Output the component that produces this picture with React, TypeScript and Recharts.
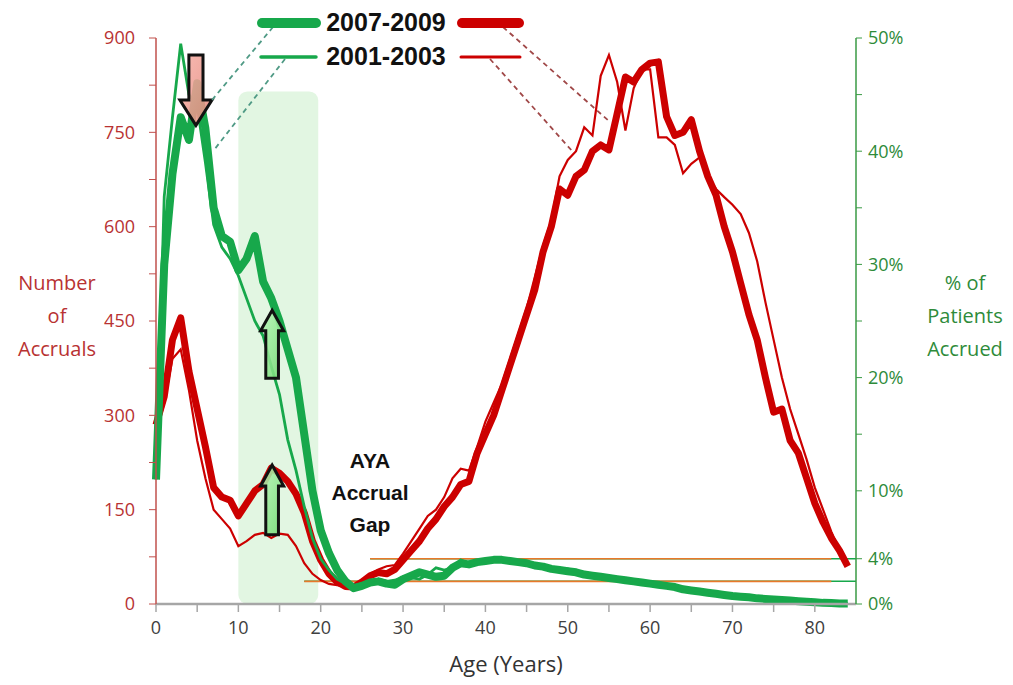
import { LineChart, Line, XAxis, YAxis, ReferenceArea, ReferenceLine } from "recharts";

// ages in years
const ages = [
  0, 1, 2, 3, 4, 5, 6, 7, 8, 9, 10, 11, 12, 13, 14, 15, 16, 17, 18, 19, 20,
  21, 22, 23, 24, 25, 26, 27, 28, 29, 30, 31, 32, 33, 34, 35, 36, 37, 38, 39, 40,
  41, 42, 43, 44, 45, 46, 47, 48, 49, 50, 51, 52, 53, 54, 55, 56, 57, 58, 59, 60,
  61, 62, 63, 64, 65, 66, 67, 68, 69, 70, 71, 72, 73, 74, 75, 76, 77, 78, 79, 80,
  81, 82, 83, 84,
];

// number of accruals (left axis)
const accruals0709 = [
  285, 330, 420, 455, 370, 310, 250, 185, 170, 165, 140, 160, 180, 190, 216, 208, 195, 175, 145, 100, 70,
  48, 35, 28, 27, 35, 45, 50, 48, 55, 70, 85, 100, 120, 135, 155, 170, 190, 195, 240, 270,
  300, 340, 380, 420, 460, 500, 560, 600, 660, 650, 680, 690, 720, 730, 722, 780, 838, 830, 850, 860,
  862, 775, 745, 750, 770, 720, 680, 650, 600, 560, 510, 460, 420, 360, 305, 310, 260, 240, 200, 160,
  130, 105, 85, 60,
];
const accruals0103 = [
  270, 320, 390, 405, 340, 260, 200, 150, 135, 120, 92, 100, 110, 113, 105, 112, 110, 92, 65, 48, 38,
  32, 30, 28, 27, 35, 48, 55, 60, 62, 80, 100, 120, 140, 150, 170, 200, 215, 212, 250, 290,
  320, 350, 390, 430, 470, 520, 570, 610, 680, 706, 720, 758, 745, 840, 873, 830, 753, 820, 850, 850,
  742, 742, 730, 685, 700, 710, 680, 660, 647, 635, 620, 590, 545, 480, 420, 360, 310, 270, 230, 185,
  150, 115, 85, 65,
];

// % of patients accrued (right axis)
const pct0709 = [
  11, 30, 38, 43, 41, 46, 42, 35, 32.5, 32, 29.5, 30.5, 32.5, 28.5, 27, 25, 22.5, 20, 15, 10, 6.5,
  4.5, 3, 2, 1.4, 1.6, 1.9, 2.0, 1.8, 1.7, 2.2, 2.5, 2.8, 2.6, 2.4, 2.5, 3.2, 3.6, 3.5, 3.7, 3.8,
  3.9, 3.9, 3.8, 3.7, 3.6, 3.4, 3.3, 3.1, 3.0, 2.9, 2.8, 2.6, 2.5, 2.4, 2.3, 2.2, 2.1, 2.0, 1.9, 1.8,
  1.7, 1.6, 1.5, 1.3, 1.2, 1.1, 1.0, 0.9, 0.8, 0.7, 0.65, 0.6, 0.5, 0.45, 0.4, 0.35, 0.3, 0.25, 0.2, 0.15,
  0.1, 0.08, 0.05, 0.05,
];
const pct0103 = [
  11, 36, 43, 49.5, 45, 44, 39, 33.5, 31.5, 30.5, 29, 27, 25, 23.7, 21, 18.5, 14.5, 11.8, 8.6, 5.8, 4,
  3, 2.2, 1.8, 1.6, 1.8, 2.0, 2.2, 2.0, 2.1, 2.4, 2.3, 2.2, 2.6, 3.2, 3.0, 3.2, 3.9, 3.6, 3.7, 3.8,
  4.0, 3.8, 3.7, 3.7, 3.6, 3.5, 3.3, 3.2, 3.1, 3.1, 2.9, 2.8, 2.6, 2.5, 2.4, 2.3, 2.2, 2.1, 2.0, 1.9,
  1.8, 1.7, 1.55, 1.45, 1.3, 1.2, 1.1, 1.0, 0.9, 0.8, 0.7, 0.65, 0.55, 0.5, 0.45, 0.4, 0.35, 0.3, 0.25, 0.2,
  0.15, 0.1, 0.08, 0.05,
];

const xTicks = [0, 5, 10, 15, 20, 25, 30, 35, 40, 45, 50, 55, 60, 65, 70, 75, 80];
const leftTicks = [0, 75, 150, 225, 300, 375, 450, 525, 600, 675, 750, 825, 900];
const rightTicks = [0, 2, 4, 10, 15, 20, 25, 30, 35, 40, 45, 50];
const rightLabels = [0, 2, 4, 10, 20, 30, 40, 50];

const data = ages.map((age, i) => ({
  age,
  red07: accruals0709[i],
  red01: accruals0103[i],
  green07: pct0709[i],
  green01: pct0103[i],
}));

const RED = "#cc0000";
const GREEN = "#17a84b";
const FONT = "'Open Sans', sans-serif";

// plot geometry (matches margins / axis widths below)
const W = 1013, H = 685;
const PL = 156, PR = W - 157, PT = 38, PB = H - 81;
const xPx = (age: number) => PL + (age / 85) * (PR - PL);
const yPx = (v: number) => PT + ((900 - v) / 900) * (PB - PT);

function Arrow({ a1, a2, v1, v2, dir, c1, c2, id, headRatio, shaftRatio }: any) {
  const x = xPx(a1), w = xPx(a2) - x;
  const y = yPx(v2), h = yPx(v1) - y;
  const cx = x + w / 2;
  const hh = h * headRatio;
  const sw = w * shaftRatio;
  let pts: number[][];
  if (dir === "up") {
    pts = [[cx, y], [x + w, y + hh], [cx + sw / 2, y + hh], [cx + sw / 2, y + h], [cx - sw / 2, y + h], [cx - sw / 2, y + hh], [x, y + hh]];
  } else {
    const b = y + h;
    pts = [[cx, b], [x + w, b - hh], [cx + sw / 2, b - hh], [cx + sw / 2, y], [cx - sw / 2, y], [cx - sw / 2, b - hh], [x, b - hh]];
  }
  return (
    <g>
      <defs>
        <linearGradient id={id} x1="0" y1="0" x2="1" y2="1">
          <stop offset="0%" stopColor={c1} />
          <stop offset="100%" stopColor={c2} />
        </linearGradient>
      </defs>
      <polygon points={pts.map((q) => q.join(",")).join(" ")} fill={`url(#${id})`} fillOpacity={0.88} stroke="#111" strokeWidth={3} strokeLinejoin="miter" />
    </g>
  );
}

const shade = (p: any) => (
  <rect x={p.x} y={p.y} width={p.width} height={p.height} rx={9} fill="#ddf5dd" fillOpacity={0.85} />
);

export default function App() {
  return (
    <div style={{ position: "absolute", left: 0, top: 0, width: W, height: H, background: "#fff", fontFamily: FONT }}>
      <LineChart width={W} height={H} data={data} margin={{ top: 38, right: 0, bottom: 41, left: 0 }}>
        <XAxis
          type="number"
          dataKey="age"
          domain={[0, 85]}
          ticks={xTicks}
          tickFormatter={(v) => (v % 10 === 0 ? String(v) : "")}
          axisLine={{ stroke: "#a6a6a6", strokeWidth: 2.5 }}
          tickLine={{ stroke: "#a6a6a6", strokeWidth: 1.5 }}
          tickSize={8}
          tickMargin={9}
          tick={{ fill: "#404040", fontSize: 18, fontFamily: FONT }}
          height={40}
        />
        <YAxis
          yAxisId="left"
          domain={[0, 900]}
          ticks={leftTicks}
          tickFormatter={(v) => (v % 150 === 0 ? String(v) : "")}
          axisLine={{ stroke: "#c0504d", strokeWidth: 1.5 }}
          tickLine={{ stroke: "#c0504d" }}
          tickSize={7}
          tickMargin={14}
          tick={{ fill: "#b83232", fontSize: 18, fontFamily: FONT }}
          width={156}
        />
        <YAxis
          yAxisId="right"
          orientation="right"
          domain={[0, 50]}
          ticks={rightTicks}
          tickFormatter={(v) => (rightLabels.includes(v) ? `${v}%` : "")}
          axisLine={{ stroke: "#3a9a45", strokeWidth: 1.5 }}
          tickLine={{ stroke: "#3a9a45" }}
          tickSize={6}
          tickMargin={6}
          tick={{ fill: "#2e8b3a", fontSize: 18, fontFamily: FONT }}
          width={157}
        />
        <ReferenceArea yAxisId="left" x1={10} x2={19.7} y1={0} y2={815} shape={shade} />
        <ReferenceLine yAxisId="right" segment={[{ x: 26, y: 4 }, { x: 85, y: 4 }]} stroke={GREEN} strokeWidth={1.5} />
        <ReferenceLine yAxisId="right" segment={[{ x: 18, y: 2 }, { x: 85, y: 2 }]} stroke={GREEN} strokeWidth={1.5} />
        <ReferenceLine yAxisId="left" segment={[{ x: 26, y: 72 }, { x: 82, y: 72 }]} stroke="#e8782a" strokeWidth={1.6} />
        <ReferenceLine yAxisId="left" segment={[{ x: 18, y: 36 }, { x: 82, y: 36 }]} stroke="#e8782a" strokeWidth={1.6} />
        <Line yAxisId="left" dataKey="red07" stroke={RED} strokeWidth={7} dot={false} type="linear" strokeLinejoin="round" isAnimationActive={false} />
        <Line yAxisId="left" dataKey="red01" stroke={RED} strokeWidth={2.2} dot={false} type="linear" isAnimationActive={false} />
        <Line yAxisId="right" dataKey="green07" stroke={GREEN} strokeWidth={8} dot={false} type="linear" strokeLinejoin="round" isAnimationActive={false} />
        <Line yAxisId="right" dataKey="green01" stroke={GREEN} strokeWidth={2.8} dot={false} type="linear" isAnimationActive={false} />
      </LineChart>

      {/* arrows, legend + connectors */}
      <svg width={W} height={H} style={{ position: "absolute", left: 0, top: 0, pointerEvents: "none" }}>
        <Arrow a1={2.9} a2={6.8} v1={761} v2={873} dir="down" c1="#f6b1a8" c2="#e58a7e" id="gDown" headRatio={0.36} shaftRatio={0.44} />
        <Arrow a1={12.7} a2={15.5} v1={359} v2={467} dir="up" c1="#b9f7b9" c2="#6fd86f" id="gUp1" headRatio={0.3} shaftRatio={0.55} />
        <Arrow a1={12.7} a2={15.5} v1={110} v2={221} dir="up" c1="#b9f7b9" c2="#6fd86f" id="gUp2" headRatio={0.3} shaftRatio={0.55} />
        <g strokeDasharray="5 4" strokeWidth={1.8} fill="none">
          <line x1={273} y1={27} x2={212} y2={100} stroke="#4f9a85" />
          <line x1={285} y1={59} x2={214} y2={150} stroke="#4f9a85" />
          <line x1={503} y1={27} x2={610} y2={122} stroke="#a04848" />
          <line x1={490} y1={59} x2={573} y2={152} stroke="#a04848" />
        </g>
        <line x1={262} y1={23} x2={316} y2={23} stroke={GREEN} strokeWidth={10} strokeLinecap="round" />
        <line x1={261} y1={57} x2={316} y2={57} stroke={GREEN} strokeWidth={3.5} strokeLinecap="round" />
        <line x1={462} y1={23} x2={519} y2={23} stroke={RED} strokeWidth={10} strokeLinecap="round" />
        <line x1={461} y1={57} x2={520} y2={57} stroke={RED} strokeWidth={3} strokeLinecap="round" />
        <text x={386} y={31} textAnchor="middle" fontFamily="'Liberation Sans', Arial, sans-serif" fontWeight="bold" fontSize={25} fill="#111">2007-2009</text>
        <text x={386} y={65} textAnchor="middle" fontFamily="'Liberation Sans', Arial, sans-serif" fontWeight="bold" fontSize={25} fill="#111">2001-2003</text>
      </svg>

      {/* axis titles and annotation */}
      <div style={{ position: "absolute", left: 0, top: 266, width: 114, textAlign: "center", color: "#b83232", fontSize: 20, lineHeight: "33px" }}>
        Number<br />of<br />Accruals
      </div>
      <div style={{ position: "absolute", left: 905, top: 266, width: 120, textAlign: "center", color: "#2e8b3a", fontSize: 20, lineHeight: "33px" }}>
        % of<br />Patients<br />Accrued
      </div>
      <div style={{ position: "absolute", left: 300, top: 445, width: 140, textAlign: "center", color: "#111", fontFamily: "'Liberation Sans', Arial, sans-serif", fontWeight: "bold", fontSize: 21, lineHeight: "32px" }}>
        AYA<br />Accrual<br />Gap
      </div>
      <div style={{ position: "absolute", left: 356, top: 648, width: 300, textAlign: "center", color: "#333", fontSize: 22 }}>
        Age (Years)
      </div>
    </div>
  );
}
